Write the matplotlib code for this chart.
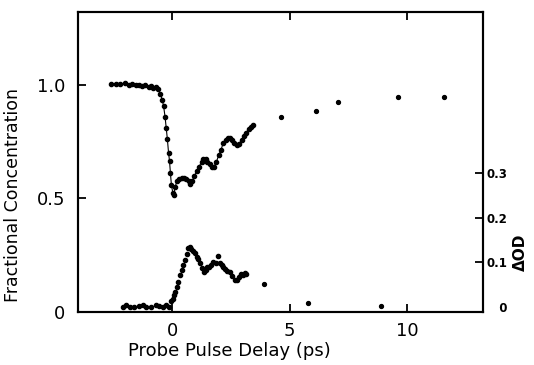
import numpy as np
import matplotlib
matplotlib.use('Agg')
import matplotlib.pyplot as plt

# fractional concentration vs probe delay (left axis)
conc_t = [-2.6, -2.4, -2.2, -2.0, -1.85, -1.7, -1.55, -1.4, -1.3, -1.15, -1.0, -0.9,
          -0.8, -0.7, -0.6, -0.5, -0.42, -0.36, -0.3, -0.25, -0.2, -0.15, -0.11, -0.07,
          -0.03, 0.03, 0.07, 0.13, 0.2, 0.3, 0.4, 0.5, 0.6, 0.7, 0.78, 0.85, 0.95,
          1.05, 1.15, 1.25, 1.33, 1.42, 1.5, 1.6, 1.7, 1.78, 1.88, 1.98, 2.08, 2.17,
          2.27, 2.37, 2.46, 2.55, 2.65, 2.75, 2.85, 2.95, 3.05, 3.15, 3.25, 3.35, 3.44]
conc = [1.005, 1.004, 1.003, 1.006, 1.0, 1.002, 0.998, 1.0, 0.995, 0.998, 0.99, 0.995,
        0.985, 0.99, 0.98, 0.96, 0.935, 0.905, 0.86, 0.81, 0.76, 0.70, 0.665, 0.61,
        0.56, 0.525, 0.515, 0.55, 0.575, 0.585, 0.59, 0.59, 0.585, 0.575, 0.565, 0.575, 0.6,
        0.62, 0.64, 0.66, 0.675, 0.672, 0.662, 0.65, 0.64, 0.64, 0.66, 0.69, 0.714, 0.743,
        0.757, 0.765, 0.765, 0.755, 0.742, 0.736, 0.74, 0.758, 0.775, 0.79, 0.805, 0.816, 0.824]
# long-delay points
conc_t_late = [4.62, 6.13, 7.06, 9.6, 11.54]
conc_late = [0.858, 0.885, 0.924, 0.947, 0.947]

# transient absorption (right axis)
od_t = [-2.1, -1.95, -1.8, -1.6, -1.4, -1.25, -1.1, -0.9, -0.7, -0.55, -0.4, -0.25,
        -0.15, -0.05, 0.02, 0.08, 0.13, 0.2, 0.27, 0.34, 0.41, 0.48, 0.55, 0.62, 0.69,
        0.75, 0.82, 0.9, 0.97, 1.05, 1.12, 1.19, 1.27, 1.35, 1.42, 1.5, 1.58, 1.66,
        1.75, 1.85, 1.96, 2.03, 2.1, 2.17, 2.25, 2.35, 2.46, 2.56, 2.67, 2.77, 2.84,
        2.92, 3.0, 3.09, 3.16]
od = [0.0, 0.003, 0.0, -0.002, 0.002, 0.004, 0.0, -0.002, 0.003, 0.002, 0.0, 0.004,
      0.0, 0.012, 0.018, 0.025, 0.033, 0.045, 0.055, 0.071, 0.082, 0.094, 0.104, 0.118, 0.131,
      0.134, 0.13, 0.124, 0.12, 0.112, 0.106, 0.097, 0.086, 0.078, 0.083, 0.088, 0.089, 0.094,
      0.1, 0.098, 0.113, 0.097, 0.093, 0.089, 0.085, 0.08, 0.078, 0.068, 0.06, 0.06, 0.066,
      0.074, 0.07, 0.076, 0.073]
od_t_late = [3.9, 5.78, 8.86]
od_late = [0.05, 0.007, 0.001]

plt.rcParams['font.family'] = ['DejaVu Sans']

fig = plt.figure(figsize=(5.34, 3.65), dpi=100)
ax = fig.add_axes([0.146, 0.145, 0.758, 0.822])

# measured points with the fit line running through them
ax.plot(conc_t, conc, color='black', lw=0.8, marker='o', ms=3.0)
ax.plot(conc_t_late, conc_late, ls='none', color='black', marker='o', ms=2.8)

ax.set_xlim(-4, 13.2)
ax.set_ylim(0, 1.32)
ax.set_xticks([0, 5, 10])
ax.set_yticks([0, 0.5, 1.0])
ax.set_yticklabels(['0', '0.5', '1.0'])
ax.tick_params(axis='both', direction='in', length=6, width=1.3, labelsize=13, top=True)
ax.tick_params(axis='y', pad=9)
ax.tick_params(axis='x', pad=7)
ax.set_xlabel('Probe Pulse Delay (ps)', fontsize=13)
ax.set_ylabel('Fractional Concentration', fontsize=12.5)
ax.xaxis.set_label_coords(0.375, -0.1)
ax.yaxis.set_label_coords(-0.138, 0.39)

# second scale for delta OD
ax2 = ax.twinx()
ax2.plot(od_t, od, ls='none', color='black', marker='o', ms=3.0)
ax2.plot(od_t_late, od_late, ls='none', color='black', marker='o', ms=2.8)
ax2.set_ylim(-0.0124, 0.662)
ax2.set_yticks([0, 0.1, 0.2, 0.3])
ax2.set_yticklabels(['   0', '0.1', '0.2', '0.3'], fontweight='bold')
ax2.tick_params(axis='y', direction='in', length=6, width=1.3, labelsize=8.5, pad=3)
ax2.yaxis.get_major_ticks()[0].tick2line.set_visible(False)
ax2.set_ylabel('ΔOD', fontsize=11, fontweight='bold', rotation=90)
ax2.yaxis.set_label_coords(1.074, 0.2)

for a in (ax, ax2):
    for s in a.spines.values():
        s.set_linewidth(1.5)

plt.savefig('out.png', dpi=100)
